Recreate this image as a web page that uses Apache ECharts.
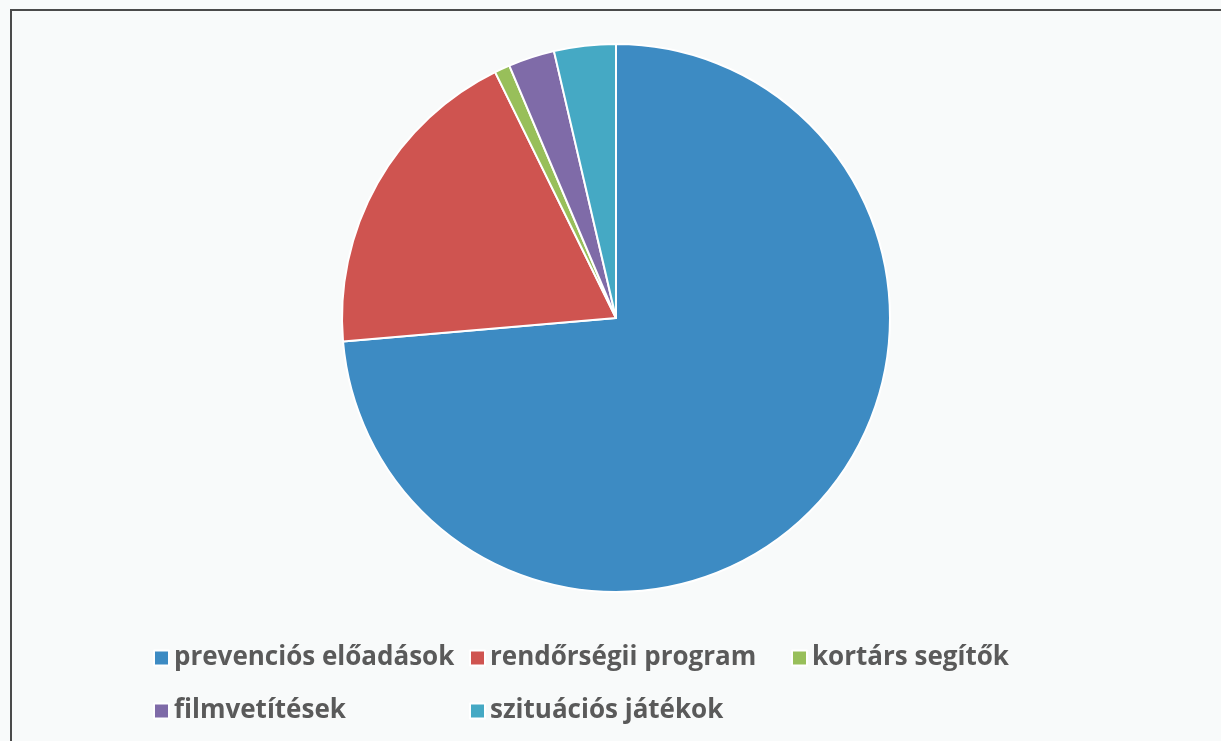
<!DOCTYPE html>
<html>
<head>
<meta charset="utf-8">
<script src="https://cdn.jsdelivr.net/npm/echarts@6/dist/echarts.min.js"></script>
<style>
  html, body { margin: 0; padding: 0; background: #f8fafa; }
  #chart { width: 1221px; height: 741px; }
</style>
</head>
<body>
<div id="chart"></div>
<script>
// categories and counts (clockwise from 12 o'clock)
const categories = ['prevenciós előadások', 'rendőrségii program', 'kortárs segítők', 'filmvetítések', 'szituációs játékok']
const values = [81, 21, 1, 3, 4]
const colors = ['#3D8BC3', '#CF5450', '#98BF5A', '#7F6BA8', '#45A9C4']

// legend slots: the legend sits in a 3-column grid, two rows
const legendLeft = [148, 464, 786, 148, 464]
const legendTop = [640, 640, 640, 693, 693]

const chart = echarts.init(document.getElementById('chart'))

const legends = categories.map(function(name, i) {
  return {
    left: legendLeft[i],
    top: legendTop[i],
    icon: 'rect',
    itemWidth: 15,
    itemHeight: 15,
    itemTextGap: 11,
    selectedMode: false,
    textStyle: {
      fontFamily: 'Open Sans',
      fontWeight: 'bold',
      fontSize: 26,
      color: '#5a5a5a'
    },
    data: [name]
  }
})

chart.setOption({
  backgroundColor: '#f8fafa',
  color: colors,
  animation: false,
  graphic: [
    {
      type: 'rect',
      shape: { x: 11, y: 10, width: 1240, height: 760 },
      style: { fill: 'none', stroke: '#4a4a4a', lineWidth: 2 },
      silent: true
    }
  ],
  legend: legends,
  series: [
    {
      type: 'pie',
      center: [616, 318],
      radius: [0, 274],
      startAngle: 90,
      clockwise: true,
      label: { show: false },
      labelLine: { show: false },
      itemStyle: { borderColor: '#ffffff', borderWidth: 2 },
      emphasis: { disabled: true },
      data: categories.map(function(name, i) {
        return { name: name, value: values[i] }
      })
    }
  ]
})
</script>
</body>
</html>
